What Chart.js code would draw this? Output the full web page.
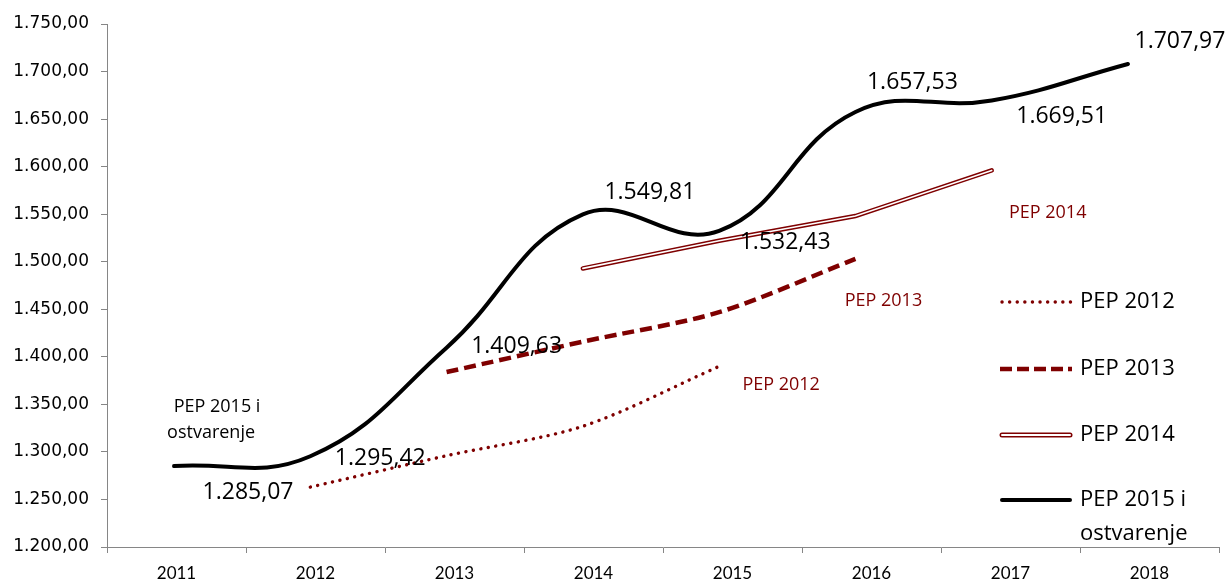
<!DOCTYPE html>
<html><head><meta charset="utf-8">
<script src="https://cdn.jsdelivr.net/npm/chart.js@4/dist/chart.umd.min.js"></script>
<style>html,body{margin:0;padding:0;background:#fff;}#wrap{width:1229px;height:585px;}</style>
</head><body><div id="wrap"><canvas id="c" width="1229" height="585"></canvas></div>
<script>
// ---- data ----
const years = [2011, 2012, 2013, 2014, 2015, 2016, 2017, 2018];
const pep2012 = [null, 1263, 1296, 1327, 1390, null, null, null];
const pep2013 = [null, null, 1384, 1416, 1447, 1503, null, null];
const pep2014 = [null, null, null, 1493, 1522, 1548, 1596, null];
const pep2015 = [1285.07, 1295.42, 1409.63, 1549.81, 1532.43, 1657.53, 1669.51, 1707.97];
const seriesNames = ['PEP 2012', 'PEP 2013', 'PEP 2014', 'PEP 2015 i', 'ostvarenje'];
const yMin = 1200, yMax = 1750, yStep = 50;

// ---- presentation ----
const RED = '#7f0000';
const labelOffsets = [[74,26],[70,2],[70,-1],[67,-22],[66,12],[57,-29],[70,16],[52,-23]];

function fmt(v){
  const s = v.toFixed(2);
  const parts = s.split('.');
  return parts[0].replace(/\B(?=(\d{3})+(?!\d))/g, '.') + ',' + parts[1];
}
function pts(arr){ return years.map((y,i)=>({x:y, y:arr[i]})); }

const labelsPlugin = {
  id: 'labelsPlugin',
  afterDatasetsDraw(chart){
    const ctx = chart.ctx;
    const xs = chart.scales.xd, ys = chart.scales.y;
    ctx.save();
    ctx.textAlign = 'center';
    ctx.textBaseline = 'middle';
    ctx.fillStyle = '#000';
    ctx.font = '23px "Open Sans"';
    pep2015.forEach((v,i)=>{
      const px = xs.getPixelForValue(years[i]);
      const py = ys.getPixelForValue(v);
      ctx.fillText(fmt(v), px + labelOffsets[i][0], py + labelOffsets[i][1]);
    });
    ctx.font = '18px "Open Sans"';
    ctx.fillStyle = '#000';
    let px = xs.getPixelForValue(years[0]), py = ys.getPixelForValue(pep2015[0]);
    ctx.fillText('PEP 2015 i', px + 43, py - 59);
    ctx.fillText('ostvarenje', px + 37, py - 33);
    ctx.fillStyle = RED;
    const ends = [[pep2012, 'PEP 2012', 62, 19],[pep2013, 'PEP 2013', 28, 42],[pep2014, 'PEP 2014', 56, 42]];
    ends.forEach(([arr, name, dx, dy])=>{
      let last = -1; arr.forEach((v,i)=>{ if (v !== null) last = i; });
      const x = xs.getPixelForValue(years[last]), y = ys.getPixelForValue(arr[last]);
      ctx.fillText(name, x + dx, y + dy);
    });
    ctx.restore();
  },
  afterDraw(chart){
    const ctx = chart.ctx;
    ctx.save();
    const x0 = 1000, x1 = 1072, tx = 1080;
    const rows = [302, 369, 435, 500];
    ctx.strokeStyle = RED; ctx.lineWidth = 3.4; ctx.lineCap = 'round'; ctx.setLineDash([0.1, 7.5]);
    ctx.beginPath(); ctx.moveTo(x0+2, rows[0]); ctx.lineTo(x1, rows[0]); ctx.stroke();
    ctx.lineCap = 'butt'; ctx.lineWidth = 4.5; ctx.setLineDash([12, 5]);
    ctx.beginPath(); ctx.moveTo(x0, rows[1]); ctx.lineTo(x1, rows[1]); ctx.stroke();
    ctx.setLineDash([]); ctx.lineWidth = 5; ctx.lineCap = 'round';
    ctx.beginPath(); ctx.moveTo(x0+2, rows[2]); ctx.lineTo(x1-2, rows[2]); ctx.stroke();
    ctx.strokeStyle = '#fff'; ctx.lineWidth = 2;
    ctx.beginPath(); ctx.moveTo(x0+2, rows[2]); ctx.lineTo(x1-2, rows[2]); ctx.stroke();
    ctx.strokeStyle = '#000'; ctx.lineWidth = 4; ctx.lineCap = 'round';
    ctx.beginPath(); ctx.moveTo(x0+2, rows[3]); ctx.lineTo(x1-2, rows[3]); ctx.stroke();
    ctx.fillStyle = '#000'; ctx.font = '22px "Open Sans"'; ctx.textAlign = 'left'; ctx.textBaseline = 'middle';
    ctx.fillText(seriesNames[0], tx, rows[0]);
    ctx.fillText(seriesNames[1], tx, rows[1]);
    ctx.fillText(seriesNames[2], tx, rows[2]);
    ctx.fillText(seriesNames[3], tx, rows[3]);
    ctx.fillText(seriesNames[4], tx, rows[3] + 34);
    ctx.restore();
  }
};

new Chart(document.getElementById('c'), {
  type: 'line',
  data: {
    labels: years.map(String),
    datasets: [
      { label: seriesNames[3], data: pts(pep2015), xAxisID: 'xd', borderColor: '#000', borderWidth: 4, tension: 0.42, pointRadius: 0, borderCapStyle: 'round' },
      { label: 'PEP 2014 inner', data: pts(pep2014), xAxisID: 'xd', borderColor: '#fff', borderWidth: 1.6, tension: 0, pointRadius: 0, borderCapStyle: 'round' },
      { label: seriesNames[2], data: pts(pep2014), xAxisID: 'xd', borderColor: RED, borderWidth: 4.6, tension: 0, pointRadius: 0, borderCapStyle: 'round' },
      { label: seriesNames[1], data: pts(pep2013), xAxisID: 'xd', borderColor: RED, borderWidth: 4.5, borderDash: [12, 6], tension: 0.3, pointRadius: 0 },
      { label: seriesNames[0], data: pts(pep2012), xAxisID: 'xd', borderColor: RED, borderWidth: 3.4, borderDash: [0.1, 7.5], borderCapStyle: 'round', tension: 0.3, pointRadius: 0 }
    ]
  },
  options: {
    responsive: false,
    animation: false,
    devicePixelRatio: 1,
    layout: { padding: { top: 24, right: 10, left: 0, bottom: 0 } },
    plugins: { legend: { display: false }, tooltip: { enabled: false } },
    scales: {
      x: {
        type: 'category', position: 'bottom', offset: true,
        grid: { offset: true, drawOnChartArea: false, tickLength: 6, color: '#868686' },
        border: { color: '#868686', width: 1 },
        ticks: { color: '#000', font: { family: 'Lato', size: 17 }, padding: 10, maxRotation: 0 },
        afterFit(s){ s.height = 38; }
      },
      xd: {
        type: 'linear', display: false, min: 2010.508, max: 2018.668
      },
      y: {
        min: yMin, max: yMax,
        grid: { drawOnChartArea: false, tickLength: 6, color: '#868686' },
        border: { color: '#868686', width: 1 },
        ticks: { stepSize: yStep, color: '#000', font: { family: 'DejaVu Sans', size: 17 }, padding: 12, callback: (v)=>fmt(v) },
        afterFit(s){ s.width = 107; }
      }
    }
  },
  plugins: [labelsPlugin]
});
</script>
</body></html>
